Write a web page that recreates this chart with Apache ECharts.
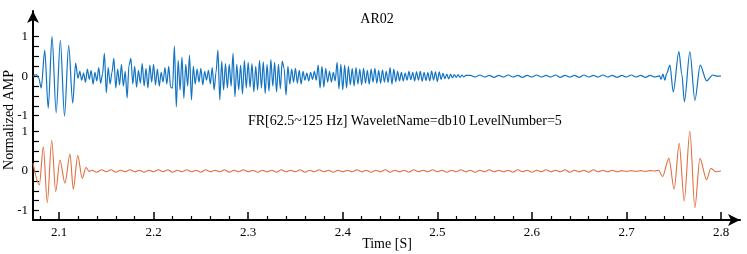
<!DOCTYPE html>
<html>
<head>
<meta charset="utf-8">
<script src="https://cdn.jsdelivr.net/npm/echarts@6/dist/echarts.min.js"></script>
<style>
  html, body { margin: 0; padding: 0; background: #fff; }
  #chart { width: 747px; height: 254px; }
</style>
</head>
<body>
<div id="chart"></div>
<script>
  // raw signal (top trace)
  const topHeadT = [2.0725, 2.0760, 2.0785, 2.0812, 2.0849, 2.0886, 2.0926, 2.0970, 2.1014, 2.1058, 2.1102, 2.1145, 2.1176];
  const topHeadV = [0.00, 0.04, -0.04, -0.30, 0.66, -0.81, 1.00, -0.93, 0.91, -1.01, 0.78, -0.68, 0.33];
  const topNoiseStart = 2.120, topNoiseStep = 0.002;
  const topNoiseV = [
    -0.05, 0.12, -0.10, 0.08, -0.15, 0.18, -0.08, 0.14, -0.20, 0.10,
    -0.12, 0.22, -0.18, 0.05, 0.58, -0.42, 0.22, -0.20, 0.10, 0.45,
    -0.30, 0.18, -0.22, 0.30, -0.25, 0.12, -0.55, 0.28, 0.45, -0.20,
    0.25, -0.28, 0.15, -0.18, 0.32, -0.25, 0.20, -0.30, 0.28, -0.15,
    0.30, -0.22, 0.18, -0.25, 0.10, -0.15, 0.22, -0.20, 0.25, -0.28,
    -0.30, 0.76, -0.78, 0.40, -0.35, 0.48, -0.56, 0.30, -0.25, 0.53,
    -0.60, 0.25, -0.20, 0.18, -0.15, 0.20, -0.22, 0.12, -0.10, 0.15,
    -0.20, 0.22, -0.35, 0.10, 0.66, -0.60, 0.38, -0.35, 0.32, -0.30,
    0.30, -0.25, 0.58, -0.52, 0.30, -0.35, 0.28, -0.45, 0.40, -0.30,
    0.35, -0.28, 0.32, -0.40, 0.25, -0.35, 0.40, -0.30, 0.36, -0.44,
    0.30, -0.38, 0.42, -0.25, 0.35, -0.40, 0.30, -0.32, 0.38, 0.20,
    -0.48, 0.25, -0.20, 0.18, -0.15, 0.20, -0.18, 0.15, -0.20, 0.12,
    -0.10, 0.08, -0.12, 0.10, -0.08, 0.12, -0.10, 0.28, -0.30, 0.25,
    -0.28, 0.20, -0.15, 0.12, -0.15, 0.10, -0.12, 0.35, -0.32, 0.30,
    -0.35, 0.28, -0.30, 0.25, -0.22, 0.20, -0.25, 0.22, -0.20, 0.18,
    -0.22, 0.20, -0.18, 0.15, -0.20, 0.18, -0.15, 0.20, -0.18, 0.15,
    -0.18, 0.16, -0.15, 0.12, -0.16, 0.22, -0.20, 0.18, -0.14, 0.12,
    -0.12, 0.10, -0.12, 0.08, -0.10, 0.12, -0.09, 0.10, -0.12, 0.11,
    -0.10, 0.12, -0.13, 0.10, -0.11, 0.09, -0.12, 0.13, -0.10, 0.11,
    -0.14, 0.11, -0.08, 0.07, -0.06, 0.05, -0.07, 0.05, -0.04, 0.04,
    -0.03, 0.04, -0.03, 0.03, -0.02, 0.02
  ];
  const topRippleStart = 2.535, topRippleStep = 0.005;
  const topRippleV = [
    0.02, -0.02, 0.03, -0.02, 0.02, -0.03, 0.02, -0.02, 0.03, -0.02,
    0.02, -0.03, 0.02, -0.02, 0.03, -0.02, 0.02, -0.02, 0.03, -0.03,
    0.02, -0.02, 0.02, -0.03, 0.03, -0.02, 0.02, -0.02, 0.03, -0.02,
    0.02, -0.03, 0.02, -0.02, 0.03, -0.02, 0.02, -0.03, 0.02, -0.02, 0.01
  ];
  const topTailT = [2.7365, 2.7385, 2.7405, 2.7425, 2.7459, 2.7494, 2.7554, 2.7585, 2.7612, 2.7670, 2.7723, 2.7779, 2.7847, 2.7913, 2.7960, 2.7998];
  const topTailV = [-0.08, 0.05, -0.10, 0.07, 0.28, -0.40, 0.62, 0.05, -0.65, 0.62, -0.61, 0.28, -0.12, 0.03, 0.00, 0.00];

  // filtered signal (bottom trace)
  const botHeadT = [2.0725, 2.0792, 2.0834, 2.0876, 2.0923, 2.0965, 2.1010, 2.1063, 2.1116, 2.1151, 2.1198, 2.1246, 2.1285, 2.1320];
  const botHeadV = [0.20, -0.35, 0.61, -0.80, 0.78, -0.52, 0.28, -0.31, 0.43, -0.46, 0.39, -0.19, 0.09, -0.01];
  const botRippleStart = 2.135, botRippleStep = 0.005;
  const botRippleV = [
    0.02, -0.03, 0.03, -0.02, 0.03, -0.03, 0.02, -0.02, 0.03, -0.02,
    0.02, -0.03, 0.02, -0.02, 0.03, -0.02, 0.03, -0.03, 0.02, -0.02,
    0.03, -0.02, 0.02, -0.03, 0.03, -0.02, 0.02, -0.02, 0.03, -0.03,
    0.02, -0.02, 0.03, -0.02, 0.02, -0.03, 0.02, -0.02, 0.02, -0.03,
    0.03, -0.02, 0.02, -0.02, 0.03, -0.03, 0.02, -0.02, 0.03, -0.02,
    0.02, -0.03, 0.02, -0.02, 0.02, -0.02, 0.03, -0.02, 0.02, -0.03,
    0.02, -0.02, 0.03, -0.03, 0.02, -0.02, 0.02, -0.03, 0.03, -0.02,
    0.02, -0.02, 0.03, -0.02, 0.02, -0.03, 0.02, -0.02, 0.03, -0.02,
    0.02, -0.03, 0.02, -0.02, 0.03, -0.02, 0.02, -0.02, 0.02, -0.03,
    0.03, -0.02, 0.02, -0.03, 0.02, -0.02, 0.03, -0.02, 0.02, -0.02,
    0.03, -0.03, 0.02, -0.02, 0.02, -0.03, 0.03, -0.02, 0.02, -0.02,
    0.02, -0.02, 0.01, -0.01, 0.01, -0.01, 0.01, -0.01, 0.01, 0.00
  ];
  const botTailT = [2.7340, 2.7381, 2.7448, 2.7504, 2.7557, 2.7610, 2.7670, 2.7723, 2.7776, 2.7847, 2.7892, 2.7946, 2.7998];
  const botTailV = [0.02, -0.14, 0.32, -0.46, 0.70, -0.76, 1.01, -0.93, 0.32, -0.22, 0.07, -0.02, 0.00];

  const topOffset = 2.4;
  const xMajor = [2.1, 2.2, 2.3, 2.4, 2.5, 2.6, 2.7, 2.8];
  const xMinor = [2.08, 2.12, 2.14, 2.16, 2.18, 2.22, 2.24, 2.26, 2.28, 2.32, 2.34, 2.36, 2.38,
                  2.42, 2.44, 2.46, 2.48, 2.52, 2.54, 2.56, 2.58, 2.62, 2.64, 2.66, 2.68, 2.72, 2.74, 2.76, 2.78];
  const yTicks = [-1, -0.75, -0.5, -0.25, 0, 0.25, 0.5, 0.75, 1];
  const yLabels = [-1, 0, 1];

  function pairs(ts, vs, off) { return ts.map((t, i) => [t, vs[i] + off]); }
  function uniform(t0, dt, vs, off) { return vs.map((v, i) => [+(t0 + i * dt).toFixed(4), v + off]); }

  const topData = [].concat(
    pairs(topHeadT, topHeadV, topOffset),
    uniform(topNoiseStart, topNoiseStep, topNoiseV, topOffset),
    uniform(topRippleStart, topRippleStep, topRippleV, topOffset),
    pairs(topTailT, topTailV, topOffset)
  );
  const botData = [].concat(
    pairs(botHeadT, botHeadV, 0),
    uniform(botRippleStart, botRippleStep, botRippleV, 0),
    pairs(botTailT, botTailV, 0)
  );

  const font = 'Liberation Serif';
  const yTickVals = yTicks.concat(yTicks.map(v => v + topOffset));
  const yLabelVals = yLabels.concat(yLabels.map(v => v + topOffset));

  const chart = echarts.init(document.getElementById('chart'));
  chart.setOption({
    animation: false,
    grid: { left: 33, right: 7, top: 11, bottom: 34, outerBoundsMode: 'none', containLabel: false },
    xAxis: [{
      type: 'value', min: 2.0725, max: 2.82, position: 'bottom',
      splitLine: { show: false },
      axisLine: { onZero: false, lineStyle: { color: '#000', width: 2 }, symbol: ['none', 'arrow'], symbolSize: [9, 12] },
      axisTick: { inside: true, length: 8, lineStyle: { color: '#000', width: 1.5 }, customValues: xMajor },
      axisLabel: { customValues: xMajor, color: '#000', fontFamily: font, fontSize: 13, margin: 6,
                   formatter: v => v.toFixed(1) }
    }, {
      type: 'value', min: 2.0725, max: 2.82, position: 'bottom',
      splitLine: { show: false },
      axisLine: { show: false, onZero: false },
      axisTick: { inside: true, length: 4, lineStyle: { color: '#000', width: 1.2 }, customValues: xMinor },
      axisLabel: { show: false }
    }],
    yAxis: {
      type: 'value', min: -1.24, max: 4.05,
      splitLine: { show: false },
      axisLine: { onZero: false, lineStyle: { color: '#000', width: 2 }, symbol: ['none', 'arrow'], symbolSize: [9, 12] },
      axisTick: { inside: true, length: 6, lineStyle: { color: '#000', width: 1.2 }, customValues: yTickVals },
      axisLabel: { customValues: yLabelVals, color: '#000', fontFamily: font, fontSize: 13, margin: 5,
                   formatter: v => String(Math.round(v > 1.2 ? v - topOffset : v)) }
    },
    graphic: [
      { type: 'text', x: 377, y: 19, style: { text: 'AR02', font: '14px "Liberation Serif"', fill: '#000', textAlign: 'center', textVerticalAlign: 'middle' } },
      { type: 'text', x: 248, y: 121, style: { text: 'FR[62.5~125 Hz] WaveletName=db10 LevelNumber=5', font: '14px "Liberation Serif"', fill: '#000', textAlign: 'left', textVerticalAlign: 'middle' } },
      { type: 'text', x: 387, y: 244, style: { text: 'Time [S]', font: '14px "Liberation Serif"', fill: '#000', textAlign: 'center', textVerticalAlign: 'middle' } },
      { type: 'text', x: 9, y: 120, rotation: Math.PI / 2, style: { text: 'Normalized AMP', font: '14px "Liberation Serif"', fill: '#000', textAlign: 'center', textVerticalAlign: 'middle' } }
    ],
    series: [{
      type: 'line', data: topData, showSymbol: false, smooth: 0.3, smoothMonotone: 'x',
      lineStyle: { color: '#1374c2', width: 1.2 }, z: 3
    }, {
      type: 'line', data: botData, showSymbol: false, smooth: 0.3, smoothMonotone: 'x',
      lineStyle: { color: '#e36f3e', width: 1.1 }, z: 3
    }]
  });
</script>
</body>
</html>
